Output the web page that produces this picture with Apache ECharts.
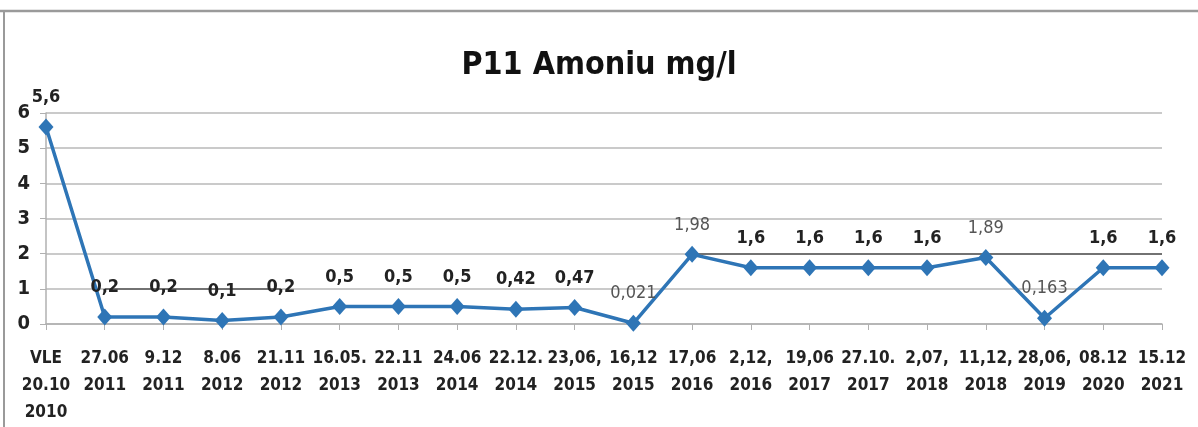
<!DOCTYPE html>
<html>
<head>
<meta charset="utf-8">
<script src="https://cdn.jsdelivr.net/npm/echarts@6/dist/echarts.min.js"></script>
<style>
  html, body { margin: 0; padding: 0; background: #fff; }
  #chart { width: 1198px; height: 427px; }
</style>
</head>
<body>
<div id="chart"></div>
<script>
// Sampling dates (category axis)
const categories = [
  'VLE\n20.10\n2010', '27.06\n2011', '9.12\n2011', '8.06\n2012', '21.11\n2012',
  '16.05.\n2013', '22.11\n2013', '24.06\n2014', '22.12.\n2014', '23,06,\n2015',
  '16,12\n2015', '17,06\n2016', '2,12,\n2016', '19,06\n2017', '27.10.\n2017',
  '2,07,\n2018', '11,12,\n2018', '28,06,\n2019', '08.12\n2020', '15.12\n2021'
];

// Ammonium concentration, mg/l
const amoniu = [5.6, 0.2, 0.2, 0.1, 0.2, 0.5, 0.5, 0.5, 0.42, 0.47,
                0.021, 1.98, 1.6, 1.6, 1.6, 1.6, 1.89, 0.163, 1.6, 1.6];

// Values whose labels are printed in a lighter weight
const lightLabels = [0.021, 1.98, 1.89, 0.163];

const yTicks = { min: 0, max: 6, interval: 1 };

const fontFam = '"DejaVu Sans Condensed", "Open Sans", "Noto Sans", sans-serif';

const chart = echarts.init(document.getElementById('chart'), null, { renderer: 'canvas' });

const seriesData = amoniu.map(v => {
  const light = lightLabels.includes(v);
  return {
    value: v,
    label: light ? { fontWeight: 'normal', color: '#555' } : undefined
  };
});

chart.setOption({
  backgroundColor: '#fff',
  animation: false,
  title: {
    text: 'P11 Amoniu mg/l',
    left: 'center',
    top: 45,
    textStyle: { fontFamily: fontFam, fontWeight: 'bold', fontSize: 32, color: '#111' }
  },
  grid: { left: 46, right: 36, top: 113, bottom: 103, containLabel: false },
  xAxis: {
    type: 'category',
    data: categories,
    boundaryGap: false,
    axisLine: { lineStyle: { color: '#b0b0b0', width: 1.5 } },
    axisTick: { show: true, alignWithLabel: true, length: 6, lineStyle: { color: '#b0b0b0' } },
    axisLabel: {
      interval: 0,
      margin: 21,
      fontFamily: fontFam,
      fontWeight: 'bold',
      fontSize: 17,
      lineHeight: 27,
      color: '#222'
    }
  },
  yAxis: {
    type: 'value',
    min: yTicks.min,
    max: yTicks.max,
    interval: yTicks.interval,
    axisLine: { show: true, lineStyle: { color: '#b0b0b0', width: 1.5 } },
    axisTick: { show: true, length: 6, lineStyle: { color: '#b0b0b0' } },
    axisLabel: {
      margin: 16,
      fontFamily: fontFam,
      fontWeight: 'bold',
      fontSize: 20,
      color: '#222'
    },
    splitLine: { lineStyle: { color: '#b8b8b8', width: 1.5 } }
  },
  series: [{
    type: 'line',
    data: seriesData,
    symbol: 'diamond',
    symbolSize: [15, 17],
    lineStyle: { color: '#2e75b6', width: 3.5 },
    itemStyle: { color: '#2e75b6' },
    z: 3,
    label: {
      show: true,
      position: 'top',
      distance: 12,
      fontFamily: fontFam,
      fontWeight: 'bold',
      fontSize: 18,
      color: '#222',
      formatter: p => String(p.value).replace('.', ',')
    },
    markLine: {
      silent: true,
      symbol: 'none',
      label: { show: false },
      lineStyle: { color: '#555', width: 1.5, type: 'solid' },
      z: 2,
      data: [
        [{ coord: [categories[11], 2] }, { coord: [categories[19], 2] }],
        [{ coord: [categories[1], 1] }, { coord: [categories[4], 1] }]
      ]
    }
  }],
  graphic: [
    { type: 'line', shape: { x1: 0, y1: 11, x2: 1198, y2: 11 }, style: { stroke: '#9a9a9a', lineWidth: 2.5 } },
    { type: 'line', shape: { x1: 4, y1: 11, x2: 4, y2: 427 }, style: { stroke: '#9a9a9a', lineWidth: 2 } }
  ]
});
</script>
</body>
</html>
